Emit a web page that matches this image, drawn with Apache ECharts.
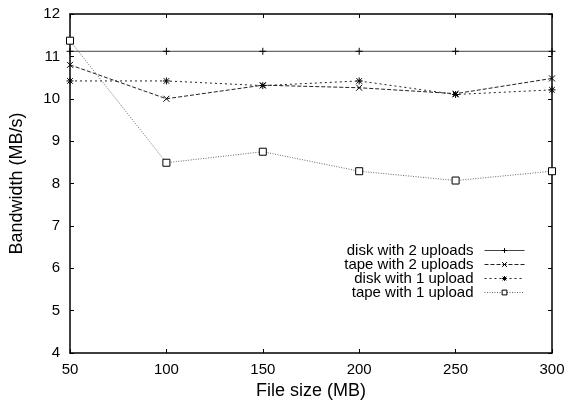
<!DOCTYPE html>
<html><head><meta charset="utf-8">
<script src="https://cdn.jsdelivr.net/npm/echarts@6/dist/echarts.min.js"></script>
<style>html,body{margin:0;padding:0;background:#fff}#c{width:565px;height:401px}</style>
</head><body><div id="c"></div>
<script>
const fileSizes = [50, 100, 150, 200, 250, 300];
const disk2 = [11.12, 11.12, 11.12, 11.12, 11.12, 11.12];
const tape2 = [10.80, 10.00, 10.32, 10.26, 10.12, 10.48];
const disk1 = [10.42, 10.42, 10.31, 10.42, 10.10, 10.21];
const tape1 = [11.37, 8.49, 8.75, 8.29, 8.07, 8.29];
const seriesNames = ['disk with 2 uploads', 'tape with 2 uploads', 'disk with 1 upload', 'tape with 1 upload'];

const font = 'Liberation Sans, Arial, Helvetica, sans-serif';
const plus = 'path://M5,0L5,10M0,5L10,5';
const cross = 'path://M0,0L10,10M10,0L0,10';
const star = 'path://M5,0L5,10M0,5L10,5M1,1L9,9M9,1L1,9';
const square = 'path://M0,0L10,0L10,10L0,10Z';

function pts(arr){ return fileSizes.map((x,i)=>[x, arr[i]]); }
function mk(name, data, symbol, size, lineType, color){
  return {
    name, type:'line', data: pts(data), symbol, symbolSize: size,
    showAllSymbol: true,
    lineStyle:{color, width:1, type: lineType},
    itemStyle:{color: symbol === square ? '#fff' : 'none', borderColor:'#000', borderWidth:1},
    emphasis:{disabled:true}, animation:false, z: 3
  };
}
const chart = echarts.init(document.getElementById('c'));
chart.setOption({
  animation:false,
  textStyle:{fontFamily:font},
  grid:{left:70, right:13, top:14, bottom:48, containLabel:false, outerBoundsMode:'none'},
  legend:{
    orient:'vertical', right:35, top:238, align:'right',
    itemWidth:40, itemHeight:6, itemGap:-1,
    lineStyle:{width:1},
    itemStyle:{borderWidth:1},
    textStyle:{fontFamily:font, fontSize:15, lineHeight:14.4, color:'#000', padding:[0,6,0,0]},
    data: seriesNames
  },
  xAxis:[{
    type:'value', min:50, max:300, interval:50,
    name:'File size (MB)', nameLocation:'middle', nameGap:28,
    nameTextStyle:{fontSize:18, color:'#000', fontFamily:font},
    axisLine:{lineStyle:{color:'#000', width:1.5}},
    axisTick:{inside:true, length:4, lineStyle:{color:'#000'}},
    axisLabel:{fontSize:15, color:'#000', margin:9, fontFamily:font},
    splitLine:{show:false}
  },{
    type:'value', position:'top', min:50, max:300, interval:50,
    axisLine:{show:true, lineStyle:{color:'#000', width:1.5}},
    axisTick:{inside:true, length:4, lineStyle:{color:'#000'}},
    axisLabel:{show:false}, splitLine:{show:false}
  }],
  yAxis:[{
    type:'value', min:4, max:12, interval:1,
    name:'Bandwidth (MB/s)', nameLocation:'middle', nameGap:44, nameRotate:90,
    nameTextStyle:{fontSize:18, color:'#000', fontFamily:font},
    axisLine:{show:true, lineStyle:{color:'#000', width:1.5}},
    axisTick:{show:true, inside:true, length:4, lineStyle:{color:'#000'}},
    axisLabel:{fontSize:15, color:'#000', margin:10, fontFamily:font},
    splitLine:{show:false}
  },{
    type:'value', position:'right', min:4, max:12, interval:1,
    axisLine:{show:true, lineStyle:{color:'#000', width:1.5}},
    axisTick:{show:true, inside:true, length:4, lineStyle:{color:'#000'}},
    axisLabel:{show:false}, splitLine:{show:false}
  }],
  series:[
    mk(seriesNames[0], disk2, plus, 7, 'solid', '#444'),
    mk(seriesNames[1], tape2, cross, 6, [4,2], '#222'),
    mk(seriesNames[2], disk1, star, 7, [2,3], '#222'),
    mk(seriesNames[3], tape1, square, 7, [1,1.5], '#666')
  ]
});
</script></body></html>
